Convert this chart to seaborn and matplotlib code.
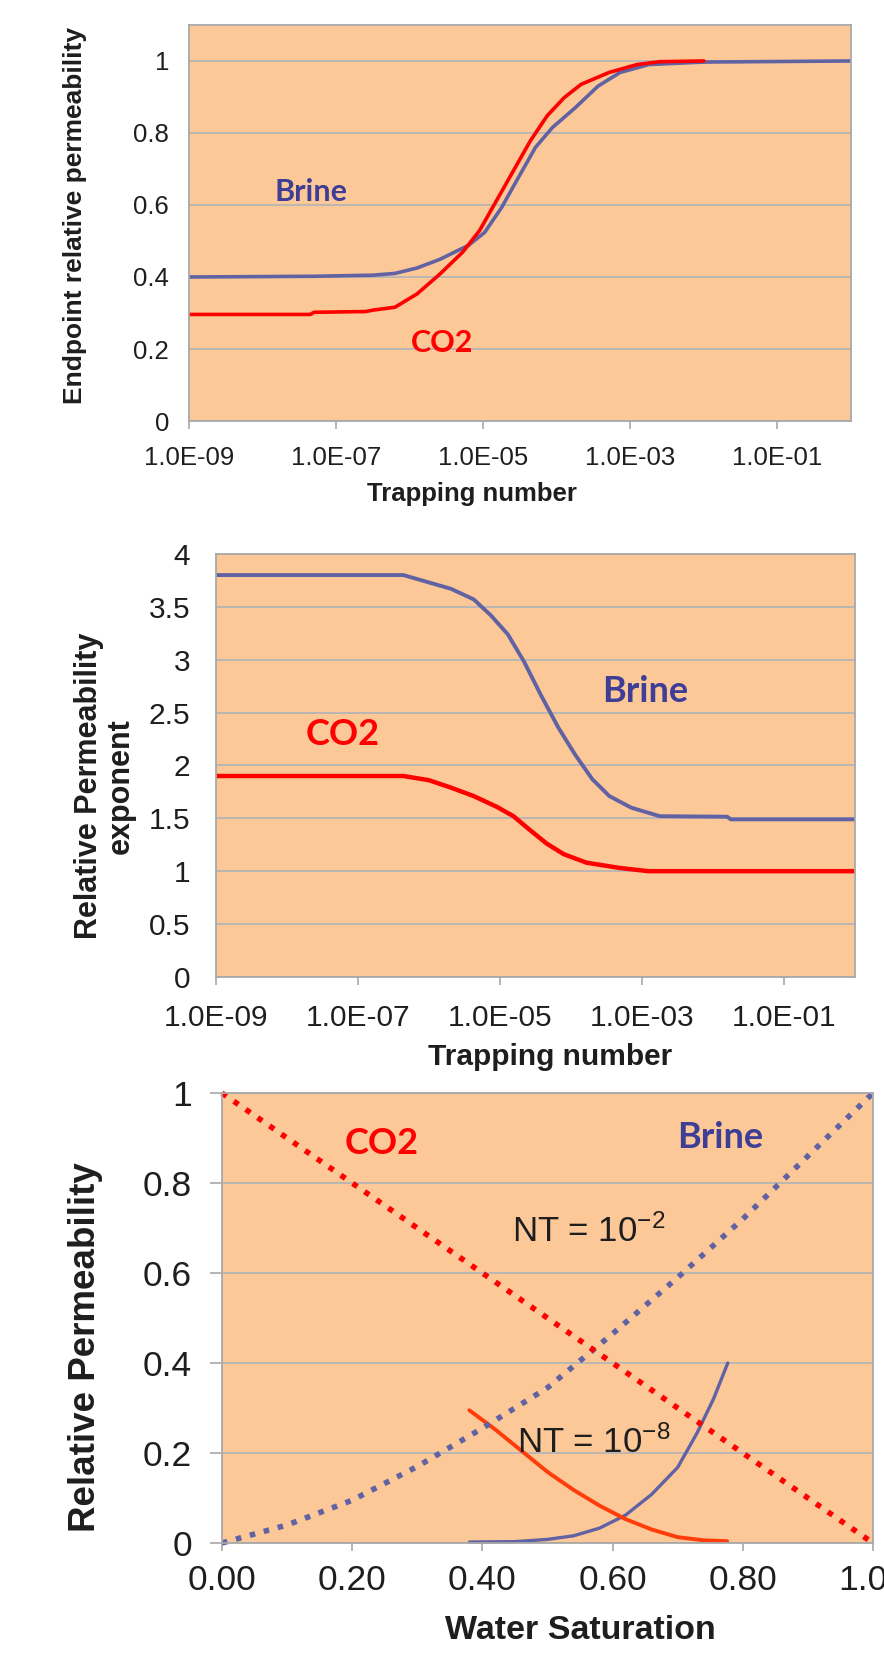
import numpy as np
import pandas as pd
import matplotlib
matplotlib.use("Agg")
import matplotlib.pyplot as plt
import seaborn as sns
from matplotlib.ticker import FixedLocator, NullLocator, FixedFormatter

# ---------------- data ----------------
# Panel 1: endpoint relative permeability vs trapping number (log10 of NT)
p1_brine_lognt = [-9.0, -7.3, -6.5, -6.2, -5.9, -5.59, -5.2, -4.98, -4.75, -4.52, -4.29,
                  -4.06, -3.75, -3.44, -3.14, -2.75, -2.0, 0.0]
p1_brine_kr = [0.400, 0.402, 0.405, 0.410, 0.425, 0.449, 0.488, 0.524, 0.593, 0.677, 0.760,
               0.815, 0.870, 0.930, 0.968, 0.990, 0.997, 1.000]
p1_co2_lognt = [-9.0, -7.35, -7.3, -6.6, -6.5, -6.2, -5.9, -5.59, -5.28, -5.05, -4.82, -4.59,
                -4.36, -4.13, -3.9, -3.67, -3.29, -2.91, -2.6, -2.0]
p1_co2_kr = [0.296, 0.296, 0.302, 0.304, 0.308, 0.316, 0.353, 0.408, 0.469, 0.529, 0.612, 0.695,
             0.778, 0.848, 0.898, 0.935, 0.968, 0.990, 0.998, 1.000]

# Panel 2: relative permeability exponent vs trapping number
p2_brine_lognt = [-9.0, -6.36, -6.0, -5.69, -5.37, -5.13, -4.89, -4.66, -4.42, -4.18, -3.94,
                  -3.70, -3.46, -3.15, -2.75, -1.8, -1.75, 0.0]
p2_brine_n = [3.80, 3.80, 3.73, 3.67, 3.57, 3.42, 3.24, 2.98, 2.66, 2.36, 2.10,
              1.87, 1.71, 1.60, 1.52, 1.515, 1.49, 1.49]
p2_co2_lognt = [-9.0, -6.36, -6.0, -5.69, -5.37, -5.05, -4.81, -4.58, -4.34, -4.10, -3.78,
                -3.31, -2.91, 0.0]
p2_co2_n = [1.90, 1.90, 1.86, 1.79, 1.71, 1.61, 1.52, 1.39, 1.26, 1.16, 1.08, 1.03, 1.00, 1.00]

# Panel 3: relative permeability vs water saturation
sw_nt2 = [0.0, 0.1, 0.2, 0.3, 0.4, 0.5, 0.6, 0.7, 0.8, 0.9, 1.0]
co2_nt2 = [1.0, 0.9, 0.8, 0.7, 0.6, 0.5, 0.4, 0.3, 0.2, 0.1, 0.0]
brine_nt2 = [0.0, 0.04, 0.095, 0.17, 0.255, 0.345, 0.465, 0.59, 0.72, 0.86, 1.0]
sw_co2_nt8 = [0.38, 0.42, 0.46, 0.50, 0.54, 0.58, 0.62, 0.66, 0.70, 0.74, 0.776]
co2_nt8 = [0.295, 0.252, 0.205, 0.158, 0.118, 0.083, 0.053, 0.030, 0.013, 0.006, 0.004]
sw_brine_nt8 = [0.38, 0.45, 0.50, 0.54, 0.58, 0.62, 0.66, 0.70, 0.73, 0.755, 0.777]
brine_nt8 = [0.002, 0.003, 0.008, 0.016, 0.033, 0.062, 0.108, 0.168, 0.245, 0.320, 0.400]

nt_ticks = [1e-9, 1e-7, 1e-5, 1e-3, 1e-1]
nt_ticklabels = ["1.0E-09", "1.0E-07", "1.0E-05", "1.0E-03", "1.0E-01"]
p1_yticks = [0, 0.2, 0.4, 0.6, 0.8, 1.0]
p1_yticklabels = ["0", "0.2", "0.4", "0.6", "0.8", "1"]
p2_yticks = [0, 0.5, 1, 1.5, 2, 2.5, 3, 3.5, 4]
p2_yticklabels = ["0", "0.5", "1", "1.5", "2", "2.5", "3", "3.5", "4"]
sw_ticks = [0.0, 0.2, 0.4, 0.6, 0.8, 1.0]
sw_ticklabels = ["0.00", "0.20", "0.40", "0.60", "0.80", "1.00"]
p3_yticks = [0, 0.2, 0.4, 0.6, 0.8, 1.0]
p3_yticklabels = ["0", "0.2", "0.4", "0.6", "0.8", "1"]

# ---------------- style ----------------
sns.set_style("white")
plt.rcParams["font.family"] = ["Liberation Sans", "DejaVu Sans"]
plt.rcParams["mathtext.fontset"] = "custom"
plt.rcParams["mathtext.rm"] = "Liberation Sans"
plt.rcParams["mathtext.it"] = "Liberation Sans:italic"
plt.rcParams["mathtext.bf"] = "Liberation Sans:bold"

BG = "#FCC898"
GRID = "#B5B5B5"
SPINE = "#A8A8A8"
BLUE = "#6062A4"
BLUE_TXT = "#3E3E96"
RED = "#FF0000"
ORANGE = "#FF3C0A"
TXT = "#1E1E1E"
LABEL_FONT = ["Lato", "DejaVu Sans"]

fig = plt.figure(figsize=(8.84, 16.53), dpi=100)
ax1 = fig.add_axes([0.2138, 0.7453, 0.7489, 0.2396])
ax2 = fig.add_axes([0.2443, 0.4090, 0.7229, 0.2559])
ax3 = fig.add_axes([0.2511, 0.06655, 0.7364, 0.2722])


def style_axes(ax, tick_fs, ypad, xpad, ytick_len=0):
    ax.set_facecolor(BG)
    for s in ax.spines.values():
        s.set_color(SPINE)
        s.set_linewidth(1.3)
    ax.set_axisbelow(True)
    ax.yaxis.grid(True, color=GRID, lw=1.3)
    ax.xaxis.grid(False)
    ax.tick_params(axis="x", which="major", bottom=True, length=5.8, width=1.2,
                   color=SPINE, labelsize=tick_fs, labelcolor=TXT, pad=xpad)
    ax.tick_params(axis="y", which="major", left=ytick_len > 0, length=ytick_len, width=1.2,
                   color=SPINE, labelsize=tick_fs, labelcolor=TXT, pad=ypad)
    ax.tick_params(which="minor", bottom=False, left=False)


# ---------------- panel 1 ----------------
df1b = pd.DataFrame({"nt": np.power(10.0, p1_brine_lognt), "kr": p1_brine_kr})
df1c = pd.DataFrame({"nt": np.power(10.0, p1_co2_lognt), "kr": p1_co2_kr})
ax1.set_xscale("log")
sns.lineplot(data=df1b, x="nt", y="kr", ax=ax1, color=BLUE, lw=2.6, estimator=None, sort=False)
sns.lineplot(data=df1c, x="nt", y="kr", ax=ax1, color=RED, lw=2.6, estimator=None, sort=False)
ax1.set_xlim(1e-9, 1.0)
ax1.set_ylim(0, 1.1)
ax1.xaxis.set_major_locator(FixedLocator(nt_ticks))
ax1.xaxis.set_major_formatter(FixedFormatter(nt_ticklabels))
ax1.xaxis.set_minor_locator(NullLocator())
ax1.yaxis.set_major_locator(FixedLocator(p1_yticks))
ax1.yaxis.set_major_formatter(FixedFormatter(p1_yticklabels))
style_axes(ax1, 18.5, 14.4, 12)
ax1.set_xlabel("Trapping number", fontsize=18.5, fontweight="bold", color=TXT, va="center")
ax1.xaxis.set_label_coords(0.427, -0.185)
ax1.set_ylabel("Endpoint relative permeability", fontsize=19, fontweight="bold", color=TXT, va="center")
ax1.yaxis.set_label_coords(-0.172, 0.52)
ax1.text(10 ** -7.34, 0.637, "Brine", color=BLUE_TXT, fontsize=22, fontweight="bold",
         family=LABEL_FONT, ha="center", va="center")
ax1.text(10 ** -5.56, 0.216, "CO2", color=RED, fontsize=22, fontweight="bold",
         family=LABEL_FONT, ha="center", va="center")

# ---------------- panel 2 ----------------
df2b = pd.DataFrame({"nt": np.power(10.0, p2_brine_lognt), "n": p2_brine_n})
df2c = pd.DataFrame({"nt": np.power(10.0, p2_co2_lognt), "n": p2_co2_n})
ax2.set_xscale("log")
sns.lineplot(data=df2b, x="nt", y="n", ax=ax2, color=BLUE, lw=2.8, estimator=None, sort=False)
sns.lineplot(data=df2c, x="nt", y="n", ax=ax2, color=RED, lw=3.2, estimator=None, sort=False)
ax2.set_xlim(1e-9, 1.0)
ax2.set_ylim(0, 4)
ax2.xaxis.set_major_locator(FixedLocator(nt_ticks))
ax2.xaxis.set_major_formatter(FixedFormatter(nt_ticklabels))
ax2.xaxis.set_minor_locator(NullLocator())
ax2.yaxis.set_major_locator(FixedLocator(p2_yticks))
ax2.yaxis.set_major_formatter(FixedFormatter(p2_yticklabels))
style_axes(ax2, 21.5, 18.7, 14)
ax2.set_xlabel("Trapping number", fontsize=21.5, fontweight="bold", color=TXT, va="center")
ax2.xaxis.set_label_coords(0.523, -0.19)
ax2.set_ylabel("Relative Permeability\nexponent", fontsize=22, fontweight="bold", color=TXT,
               va="center", linespacing=1.05)
ax2.yaxis.set_label_coords(-0.174, 0.452)
ax2.text(10 ** -2.95, 2.70, "Brine", color=BLUE_TXT, fontsize=26, fontweight="bold",
         family=LABEL_FONT, ha="center", va="center")
ax2.text(10 ** -7.22, 2.29, "CO2", color=RED, fontsize=26, fontweight="bold",
         family=LABEL_FONT, ha="center", va="center")

# ---------------- panel 3 ----------------
df3_co2_nt2 = pd.DataFrame({"sw": sw_nt2, "kr": co2_nt2})
df3_brine_nt2 = pd.DataFrame({"sw": sw_nt2, "kr": brine_nt2})
df3_co2_nt8 = pd.DataFrame({"sw": sw_co2_nt8, "kr": co2_nt8})
df3_brine_nt8 = pd.DataFrame({"sw": sw_brine_nt8, "kr": brine_nt8})
sns.lineplot(data=df3_brine_nt8, x="sw", y="kr", ax=ax3, color=BLUE, lw=2.4, estimator=None, sort=False)
sns.lineplot(data=df3_co2_nt8, x="sw", y="kr", ax=ax3, color=ORANGE, lw=2.8, estimator=None, sort=False)
sns.lineplot(data=df3_brine_nt2, x="sw", y="kr", ax=ax3, color=BLUE, lw=4.0, estimator=None,
             sort=False, linestyle=(0, (1, 1.6)))
sns.lineplot(data=df3_co2_nt2, x="sw", y="kr", ax=ax3, color=RED, lw=4.0, estimator=None,
             sort=False, linestyle=(0, (1, 1.6)))
ax3.set_xlim(0, 1)
ax3.set_ylim(0, 1)
ax3.xaxis.set_major_locator(FixedLocator(sw_ticks))
ax3.xaxis.set_major_formatter(FixedFormatter(sw_ticklabels))
ax3.yaxis.set_major_locator(FixedLocator(p3_yticks))
ax3.yaxis.set_major_formatter(FixedFormatter(p3_yticklabels))
style_axes(ax3, 25.5, 13, 9, ytick_len=8.6)
for l in ax3.lines:
    l.set_clip_on(False)
ax3.set_xlabel("Water Saturation", fontsize=24.5, fontweight="bold", color=TXT, va="center")
ax3.xaxis.set_label_coords(0.55, -0.195)
ax3.set_ylabel("Relative Permeability", fontsize=26.5, fontweight="bold", color=TXT, va="center")
ax3.yaxis.set_label_coords(-0.209, 0.436)
ax3.text(0.246, 0.887, "CO2", color=RED, fontsize=26, fontweight="bold",
         family=LABEL_FONT, ha="center", va="center")
ax3.text(0.765, 0.902, "Brine", color=BLUE_TXT, fontsize=26, fontweight="bold",
         family=LABEL_FONT, ha="center", va="center")
ax3.text(0.445, 0.669, r"NT = 10$^{\mathregular{-2}}$", color=TXT, fontsize=25,
         ha="left", va="baseline")
ax3.text(0.453, 0.200, r"NT = 10$^{\mathregular{-8}}$", color=TXT, fontsize=25,
         ha="left", va="baseline")

fig.savefig("out.png", dpi=100, facecolor="white")
